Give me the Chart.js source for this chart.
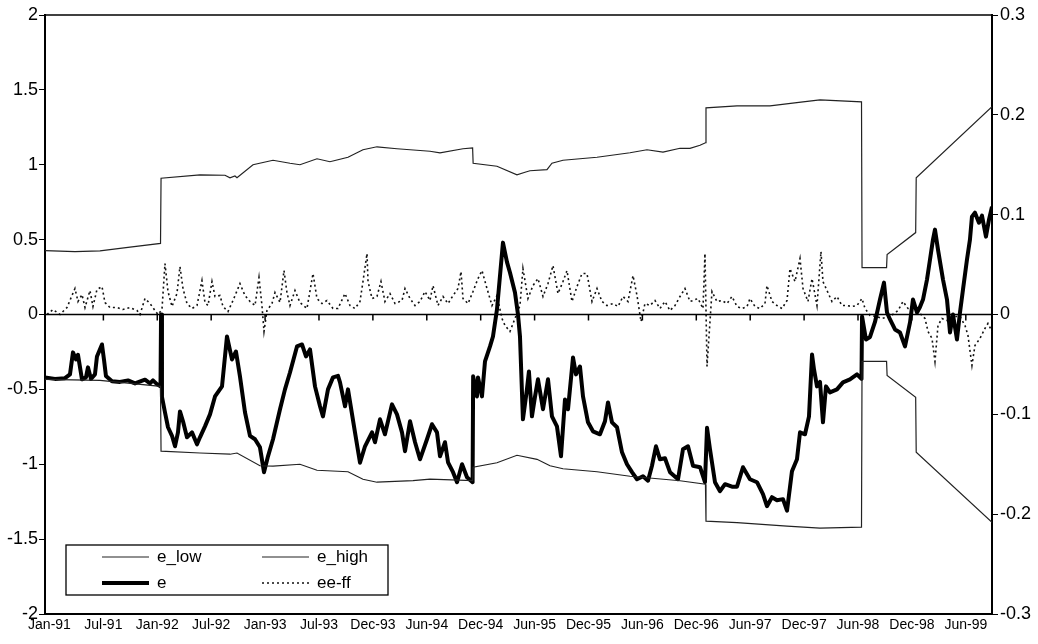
<!DOCTYPE html>
<html>
<head>
<meta charset="utf-8">
<script src="https://cdn.jsdelivr.net/npm/chart.js@4.4.1/dist/chart.umd.min.js"></script>
<style>
  html, body { margin: 0; padding: 0; background: #fff; }
  #wrap { width: 1038px; height: 644px; }
</style>
</head>
<body>
<div id="wrap"><canvas id="myChart"></canvas></div>
<script>
// x positions are measured in label intervals (0 = Jan-91, 1 = Jul-91, ...)
var tickLabels = ["Jan-91", "Jul-91", "Jan-92", "Jul-92", "Jan-93", "Jul-93", "Dec-93", "Jun-94", "Dec-94",
  "Jun-95", "Dec-95", "Jun-96", "Dec-96", "Jun-97", "Dec-97", "Jun-98", "Dec-98", "Jun-99"];
var seriesNames = ["e_low", "e_high", "e", "ee-ff"];

var eHigh = [[-0.083,0.427],[0.473,0.42],[0.937,0.425],[1.494,0.45],[2.06,0.475],[2.07,0.91],[2.792,0.933],
  [3.256,0.93],[3.349,0.913],[3.441,0.925],[3.479,0.913],[3.776,1.0],[4.147,1.03],[4.462,1.01],[4.647,1.0],
  [4.963,1.04],[5.204,1.02],[5.538,1.05],[5.816,1.1],[6.076,1.12],[6.447,1.107],[7.059,1.09],[7.245,1.08],
  [7.672,1.107],[7.85,1.113],[7.86,1.01],[8.302,0.99],[8.673,0.933],[8.822,0.95],[8.914,0.96],[9.23,0.967],
  [9.322,1.01],[9.527,1.03],[10.158,1.05],[10.77,1.08],[11.085,1.1],[11.382,1.085],[11.698,1.11],[11.883,1.11],
  [12.069,1.13],[12.17,1.147],[12.18,1.38],[12.755,1.393],[13.367,1.393],[13.98,1.42],[14.295,1.433],
  [15.065,1.42],[15.075,0.313],[15.53,0.313],[15.54,0.4],[16.07,0.547],[16.08,0.913],[17.486,1.387]];

var eLow = [[-0.083,-0.433],[0.937,-0.44],[2.06,-0.48],[2.07,-0.913],[2.792,-0.925],[3.349,-0.933],[3.479,-0.925],
  [3.905,-1.01],[4.147,-1.013],[4.647,-1.0],[4.963,-1.04],[5.538,-1.05],[5.816,-1.1],[6.076,-1.12],[6.744,-1.11],
  [7.059,-1.1],[7.85,-1.11],[7.86,-1.02],[8.302,-0.99],[8.673,-0.94],[9.045,-0.967],[9.286,-1.01],[9.527,-1.03],
  [10.158,-1.05],[10.77,-1.08],[11.698,-1.11],[12.17,-1.133],[12.18,-1.38],[12.755,-1.39],[13.683,-1.413],
  [14.295,-1.427],[15.065,-1.42],[15.075,-0.313],[15.53,-0.313],[15.54,-0.407],[16.07,-0.553],[16.08,-0.92],
  [17.486,-1.387]];

var eMain = [[-0.083,-0.42],[0.102,-0.43],[0.288,-0.425],[0.38,-0.4],[0.436,-0.253],[0.492,-0.3],[0.529,-0.27],
  [0.603,-0.433],[0.677,-0.42],[0.714,-0.353],[0.77,-0.43],[0.844,-0.4],[0.881,-0.28],[0.974,-0.2],[1.011,-0.3],
  [1.048,-0.41],[1.16,-0.445],[1.308,-0.45],[1.457,-0.44],[1.587,-0.46],[1.772,-0.435],[1.865,-0.46],[1.92,-0.44],
  [1.994,-0.465],[2.06,-0.48],[2.07,0.0],[2.087,-0.55],[2.143,-0.653],[2.199,-0.753],[2.273,-0.81],[2.329,-0.88],
  [2.384,-0.787],[2.421,-0.647],[2.477,-0.713],[2.551,-0.82],[2.644,-0.787],[2.737,-0.867],[2.792,-0.82],
  [2.885,-0.747],[2.978,-0.667],[3.071,-0.547],[3.201,-0.48],[3.293,-0.147],[3.386,-0.3],[3.46,-0.247],
  [3.534,-0.413],[3.627,-0.653],[3.72,-0.81],[3.813,-0.833],[3.905,-0.887],[3.98,-1.053],[4.054,-0.947],
  [4.147,-0.833],[4.277,-0.633],[4.369,-0.5],[4.462,-0.387],[4.592,-0.213],[4.685,-0.2],[4.759,-0.28],
  [4.833,-0.233],[4.926,-0.48],[5.019,-0.613],[5.074,-0.68],[5.167,-0.5],[5.26,-0.42],[5.353,-0.41],[5.39,-0.453],
  [5.483,-0.613],[5.538,-0.5],[5.668,-0.787],[5.761,-0.99],[5.854,-0.88],[5.984,-0.787],[6.039,-0.853],[6.132,-0.7],
  [6.224,-0.8],[6.354,-0.6],[6.447,-0.667],[6.54,-0.787],[6.596,-0.913],[6.689,-0.713],[6.782,-0.853],[6.874,-0.967],
  [7.004,-0.833],[7.096,-0.733],[7.189,-0.787],[7.245,-0.947],[7.338,-0.853],[7.394,-0.987],[7.487,-1.053],
  [7.561,-1.12],[7.654,-1.0],[7.746,-1.087],[7.85,-1.12],[7.86,-0.413],[7.931,-0.547],[7.95,-0.42],[8.024,-0.547],
  [8.08,-0.313],[8.173,-0.213],[8.228,-0.147],[8.302,0.033],[8.413,0.48],[8.488,0.35],[8.543,0.28],[8.636,0.147],
  [8.692,0.0],[8.729,-0.147],[8.784,-0.7],[8.858,-0.5],[8.895,-0.38],[8.951,-0.68],[9.007,-0.55],[9.063,-0.433],
  [9.156,-0.633],[9.249,-0.433],[9.322,-0.68],[9.415,-0.747],[9.49,-0.947],[9.564,-0.567],[9.62,-0.633],
  [9.713,-0.287],[9.768,-0.4],[9.842,-0.347],[9.898,-0.547],[9.991,-0.72],[10.083,-0.78],[10.213,-0.8],
  [10.306,-0.713],[10.362,-0.587],[10.436,-0.72],[10.529,-0.753],[10.622,-0.92],[10.714,-1.0],[10.807,-1.053],
  [10.9,-1.1],[11.011,-1.08],[11.104,-1.11],[11.178,-1.01],[11.252,-0.88],[11.326,-0.967],[11.419,-0.96],
  [11.512,-1.053],[11.661,-1.1],[11.753,-0.9],[11.846,-0.88],[11.939,-1.01],[12.069,-1.02],[12.161,-1.12],
  [12.199,-0.757],[12.254,-0.9],[12.347,-1.12],[12.44,-1.18],[12.533,-1.133],[12.662,-1.15],[12.755,-1.15],
  [12.866,-1.02],[12.996,-1.1],[13.126,-1.12],[13.237,-1.2],[13.311,-1.28],[13.404,-1.22],[13.497,-1.24],
  [13.608,-1.233],[13.683,-1.31],[13.775,-1.047],[13.868,-0.967],[13.924,-0.787],[14.017,-0.8],[14.091,-0.68],
  [14.147,-0.267],[14.184,-0.367],[14.239,-0.48],[14.295,-0.45],[14.35,-0.72],[14.406,-0.48],[14.48,-0.52],
  [14.61,-0.5],[14.721,-0.453],[14.851,-0.433],[14.981,-0.4],[15.065,-0.43],[15.075,-0.013],[15.148,-0.167],
  [15.223,-0.15],[15.315,-0.05],[15.408,0.1],[15.482,0.213],[15.538,0.013],[15.594,-0.033],[15.686,-0.1],
  [15.779,-0.12],[15.872,-0.213],[15.965,-0.053],[16.02,0.1],[16.095,0.013],[16.15,0.05],[16.206,0.1],
  [16.28,0.233],[16.336,0.367],[16.391,0.5],[16.428,0.567],[16.484,0.433],[16.577,0.233],[16.651,0.1],
  [16.707,-0.12],[16.762,0.0],[16.836,-0.167],[16.892,0.013],[16.948,0.167],[17.022,0.367],[17.077,0.5],
  [17.114,0.653],[17.17,0.68],[17.244,0.613],[17.3,0.66],[17.374,0.52],[17.43,0.633],[17.486,0.72]];

// ee-ff on the right axis
var eeff = [[-0.046,0.0],[0.065,0.005],[0.195,0.0],[0.325,0.007],[0.417,0.019],[0.473,0.026],[0.529,0.013],
  [0.603,0.02],[0.659,0.007],[0.751,0.024],[0.807,0.008],[0.881,0.025],[0.974,0.028],[1.03,0.012],[1.122,0.007],
  [1.252,0.007],[1.364,0.005],[1.494,0.007],[1.624,0.004],[1.679,0.0],[1.772,0.016],[1.865,0.011],[1.957,0.004],
  [2.013,0.0],[2.087,0.005],[2.143,0.051],[2.199,0.023],[2.273,0.008],[2.365,0.021],[2.421,0.048],[2.477,0.026],
  [2.551,0.011],[2.644,0.006],[2.737,0.009],[2.829,0.034],[2.885,0.012],[2.941,0.009],[3.015,0.033],[3.071,0.018],
  [3.164,0.019],[3.219,0.008],[3.312,0.003],[3.405,0.014],[3.534,0.031],[3.627,0.019],[3.72,0.013],[3.813,0.009],
  [3.887,0.037],[3.942,0.009],[3.98,-0.017],[4.035,0.004],[4.128,0.011],[4.184,0.022],[4.277,0.012],[4.351,0.044],
  [4.406,0.022],[4.462,0.009],[4.555,0.024],[4.647,0.012],[4.777,0.006],[4.889,0.041],[4.963,0.016],[5.056,0.011],
  [5.148,0.014],[5.26,0.006],[5.353,0.006],[5.483,0.021],[5.575,0.009],[5.668,0.006],[5.761,0.013],[5.816,0.033],
  [5.891,0.061],[5.91,0.033],[5.984,0.016],[6.076,0.018],[6.15,0.033],[6.224,0.013],[6.317,0.021],[6.41,0.011],
  [6.54,0.014],[6.596,0.026],[6.689,0.016],[6.782,0.009],[6.874,0.013],[6.967,0.023],[7.059,0.014],[7.115,0.029],
  [7.208,0.009],[7.301,0.018],[7.394,0.011],[7.487,0.019],[7.579,0.026],[7.635,0.043],[7.672,0.016],[7.765,0.011],
  [7.857,0.023],[7.95,0.036],[8.024,0.044],[8.117,0.026],[8.21,0.009],[8.302,0.019],[8.395,-0.004],[8.451,-0.011],
  [8.543,-0.017],[8.636,-0.004],[8.729,0.009],[8.784,0.046],[8.877,0.016],[8.97,0.029],[9.063,0.036],[9.156,0.018],
  [9.249,0.031],[9.341,0.049],[9.434,0.021],[9.527,0.033],[9.601,0.044],[9.694,0.013],[9.787,0.028],[9.879,0.041],
  [9.972,0.041],[10.065,0.013],[10.158,0.026],[10.25,0.013],[10.343,0.009],[10.455,0.011],[10.548,0.008],
  [10.641,0.018],[10.733,0.013],[10.826,0.039],[10.9,0.019],[10.974,-0.007],[11.048,0.011],[11.141,0.009],
  [11.234,0.014],[11.326,0.006],[11.419,0.013],[11.512,0.004],[11.605,0.009],[11.698,0.018],[11.79,0.026],
  [11.883,0.013],[11.939,0.014],[12.032,0.016],[12.124,0.006],[12.161,0.061],[12.199,-0.052],[12.291,0.023],
  [12.384,0.013],[12.477,0.014],[12.57,0.011],[12.662,0.018],[12.755,0.008],[12.848,0.006],[12.941,0.008],
  [12.996,0.016],[13.089,0.008],[13.182,0.006],[13.274,0.011],[13.311,0.029],[13.404,0.013],[13.497,0.009],
  [13.59,0.006],[13.683,0.014],[13.738,0.046],[13.831,0.033],[13.924,0.056],[13.98,0.026],[14.072,0.013],
  [14.147,0.036],[14.239,0.009],[14.313,0.063],[14.35,0.033],[14.425,0.024],[14.517,0.013],[14.61,0.018],
  [14.703,0.009],[14.795,0.009],[14.888,0.008],[14.981,0.009],[15.074,0.016],[15.13,0.006],[15.223,-0.001],
  [15.353,-0.002],[15.445,-0.004],[15.594,-0.002],[15.742,0.004],[15.835,0.013],[15.928,0.006],[16.02,0.003],
  [16.15,0.001],[16.243,-0.004],[16.299,-0.017],[16.373,-0.024],[16.428,-0.047],[16.484,-0.011],[16.558,-0.004],
  [16.651,-0.006],[16.762,-0.002],[16.892,-0.002],[16.985,-0.011],[17.04,-0.021],[17.114,-0.051],[17.17,-0.031],
  [17.263,-0.024],[17.355,-0.014],[17.411,-0.009],[17.486,-0.017]];

function toPoints(arr) {
  return arr.map(function (p) { return { x: p[0], y: p[1] }; });
}

// 2.0 -> "2", 0.30000000000000004 -> "0.3"
function plainNumber(value) {
  return String(Math.round(value * 100) / 100);
}

var FONT = "'Liberation Sans', Arial, Helvetica, sans-serif";

// box round the plot, the zero axis with its ticks, and the legend box
var framePlugin = {
  id: "frame",
  afterDatasetsDraw: function (chart) {
    var ctx = chart.ctx, a = chart.chartArea;
    var xs = chart.scales.x, ys = chart.scales.y;
    ctx.save();
    ctx.strokeStyle = "#000";
    ctx.lineWidth = 1.5;
    ctx.beginPath();
    ctx.moveTo(a.left, a.top);
    ctx.lineTo(a.right, a.top);
    ctx.stroke();
    var y0 = ys.getPixelForValue(0);
    ctx.beginPath();
    ctx.moveTo(a.left, y0);
    ctx.lineTo(a.right, y0);
    for (var i = 1; i < tickLabels.length; i++) {
      var px = xs.getPixelForValue(i);
      ctx.moveTo(px, y0);
      ctx.lineTo(px, y0 + 6);
    }
    ctx.stroke();

    // legend
    var bx = a.left + 21, by = a.bottom - 69, bw = 322, bh = 50;
    ctx.fillStyle = "#fff";
    ctx.fillRect(bx, by, bw, bh);
    ctx.lineWidth = 1.3;
    ctx.strokeRect(bx, by, bw, bh);
    var slots = [[0, 0], [1, 0], [0, 1], [1, 1]];
    ctx.font = "17px " + FONT;
    ctx.textBaseline = "middle";
    chart.data.datasets.forEach(function (ds, k) {
      var cx = bx + 36 + slots[k][0] * 160;
      var cy = by + 12 + slots[k][1] * 26;
      ctx.save();
      ctx.strokeStyle = ds.borderColor;
      ctx.lineWidth = ds.borderWidth;
      ctx.setLineDash(ds.borderDash || []);
      ctx.beginPath();
      ctx.moveTo(cx, cy);
      ctx.lineTo(cx + 47, cy);
      ctx.stroke();
      ctx.restore();
      ctx.fillStyle = "#000";
      ctx.fillText(ds.label, cx + 55, cy);
    });
    ctx.restore();
  }
};

var ctx = document.getElementById("myChart").getContext("2d");
var myChart = new Chart(ctx, {
  type: "line",
  data: {
    datasets: [
      { label: seriesNames[0], data: toPoints(eLow), borderColor: "#222", borderWidth: 1.2, yAxisID: "y" },
      { label: seriesNames[1], data: toPoints(eHigh), borderColor: "#222", borderWidth: 1.2, yAxisID: "y" },
      { label: seriesNames[2], data: toPoints(eMain), borderColor: "#000", borderWidth: 4, yAxisID: "y",
        borderJoinStyle: "round" },
      { label: seriesNames[3], data: toPoints(eeff), borderColor: "#111", borderWidth: 1.6, borderDash: [2, 3],
        yAxisID: "y1" }
    ]
  },
  options: {
    responsive: true,
    maintainAspectRatio: false,
    animation: false,
    layout: { padding: { top: 15, left: 0, right: 0, bottom: 0 } },
    elements: { point: { radius: 0, hoverRadius: 0 }, line: { tension: 0 } },
    plugins: { legend: { display: false }, tooltip: { enabled: false } },
    scales: {
      x: {
        type: "linear",
        min: -0.083,
        max: 17.486,
        grid: { display: false, drawTicks: false },
        border: { display: true, color: "#000", width: 2 },
        afterBuildTicks: function (scale) {
          scale.ticks = tickLabels.map(function (l, i) { return { value: i }; });
        },
        afterFit: function (scale) { scale.height = 30; },
        ticks: {
          autoSkip: false,
          maxRotation: 0,
          padding: 3,
          color: "#000",
          font: { family: FONT, size: 14 },
          callback: function (value) { return tickLabels[value]; }
        }
      },
      y: {
        position: "left",
        min: -2,
        max: 2,
        afterFit: function (scale) { scale.width = 45; },
        grid: { drawOnChartArea: false, drawTicks: true, tickLength: 6, color: "#000" },
        border: { display: true, color: "#000", width: 2 },
        ticks: { stepSize: 0.5, padding: 1, color: "#000", font: { family: FONT, size: 18 },
          callback: plainNumber }
      },
      y1: {
        position: "right",
        min: -0.3,
        max: 0.3,
        afterFit: function (scale) { scale.width = 46; },
        grid: { drawOnChartArea: false, drawTicks: true, tickLength: 6, color: "#000" },
        border: { display: true, color: "#000", width: 2 },
        ticks: { stepSize: 0.1, padding: 2, color: "#000", font: { family: FONT, size: 18 },
          callback: plainNumber }
      }
    }
  },
  plugins: [framePlugin]
});
</script>
</body>
</html>
